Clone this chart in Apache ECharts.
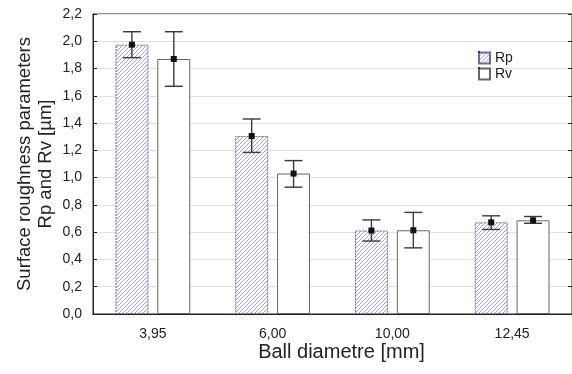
<!DOCTYPE html>
<html>
<head>
<meta charset="utf-8">
<script src="https://cdn.jsdelivr.net/npm/echarts@6/dist/echarts.min.js"></script>
<style>html,body{margin:0;padding:0;background:#fff}#c{width:572px;height:374px}</style>
</head>
<body>
<div id="c"></div>
<script>
const categories = ['3,95', '6,00', '10,00', '12,45'];
const rpMean = [1.975, 1.305, 0.612, 0.672];
const rpLow  = [1.88, 1.185, 0.535, 0.62];
const rpHigh = [2.07, 1.43, 0.69, 0.72];
const rvMean = [1.87, 1.03, 0.614, 0.687];
const rvLow  = [1.67, 0.93, 0.485, 0.665];
const rvHigh = [2.07, 1.125, 0.745, 0.715];

const pc = document.createElement('canvas');
pc.width = 4; pc.height = 4;
const g = pc.getContext('2d');
g.fillStyle = '#ffffff'; g.fillRect(0,0,4,4);
g.strokeStyle = '#a4a4c8'; g.lineWidth = 1;
g.beginPath(); g.moveTo(-1,5); g.lineTo(5,-1); g.stroke();
g.beginPath(); g.moveTo(-1,1); g.lineTo(1,-1); g.stroke();
g.beginPath(); g.moveTo(3,5); g.lineTo(5,3); g.stroke();
const hatch = {image: pc, repeat: 'repeat'};

function errItem(dx) {
  return function (params, api) {
    const i = api.value(0);
    const bw = api.size([1, 0])[0];
    const x = api.coord([i, 0])[0] + dx * bw;
    const ym = api.coord([i, api.value(1)])[1];
    const yl = api.coord([i, api.value(2)])[1];
    const yh = api.coord([i, api.value(3)])[1];
    const c = 9;
    const st = {stroke: '#3a3a3a', lineWidth: 1.4};
    return {type: 'group', children: [
      {type: 'line', shape: {x1: x, y1: yl, x2: x, y2: yh}, style: st},
      {type: 'line', shape: {x1: x - c, y1: yl, x2: x + c, y2: yl}, style: st},
      {type: 'line', shape: {x1: x - c, y1: yh, x2: x + c, y2: yh}, style: st},
      {type: 'rect', shape: {x: x - 3, y: ym - 3, width: 6, height: 6}, style: {fill: '#111'}}
    ]};
  };
}
const errRp = categories.map((c, i) => [i, rpMean[i], rpLow[i], rpHigh[i]]);
const errRv = categories.map((c, i) => [i, rvMean[i], rvLow[i], rvHigh[i]]);

const fmt = v => v.toFixed(1).replace('.', ',');
const FF = 'Liberation Sans, Arial, sans-serif';
const chart = echarts.init(document.getElementById('c'), null, {renderer: 'canvas'});
chart.setOption({
  animation: false,
  textStyle: {fontFamily: FF},
  grid: {left: 93, top: 14, right: 0, bottom: 60, show: true, borderColor: '#222', borderWidth: 1},
  legend: {
    data: ['Rp', 'Rv'], orient: 'vertical', left: 473, top: 46, icon: 'rect',
    itemWidth: 11, itemHeight: 11, itemGap: 2,
    textStyle: {fontSize: 14, color: '#222', fontFamily: FF}
  },
  graphic: [
    {type: 'rect', shape: {x: 478, y: 51, width: 2, height: 2}, style: {fill: '#333'}, z: 100},
    {type: 'rect', shape: {x: 478, y: 67, width: 2, height: 2}, style: {fill: '#333'}, z: 100}
  ],
  xAxis: [{
    type: 'category', data: categories,
    axisLine: {lineStyle: {color: '#222'}},
    axisTick: {inside: true, alignWithLabel: true, length: 4, lineStyle: {color: '#222'}},
    axisLabel: {fontSize: 14, color: '#222', margin: 13},
    name: 'Ball diametre [mm]', nameLocation: 'middle', nameGap: 28, nameMoveOverlap: false,
    nameTextStyle: {fontSize: 20, color: '#222', padding: [0, 0, 0, 18]}
  }, {
    type: 'category', data: categories, position: 'top',
    axisLine: {lineStyle: {color: '#222'}},
    axisTick: {inside: true, alignWithLabel: true, length: 4, lineStyle: {color: '#222'}},
    axisLabel: {show: false}
  }],
  yAxis: [{
    type: 'value', min: 0, max: 2.2, interval: 0.2,
    axisLine: {show: true, lineStyle: {color: '#222'}},
    axisTick: {show: true, inside: true, length: 4, lineStyle: {color: '#222'}},
    axisLabel: {fontSize: 14, color: '#222', margin: 11, formatter: fmt},
    splitLine: {lineStyle: {color: '#e0e0e0', width: 1}},
    name: 'Surface roughness parameters\nRp and Rv [µm]', nameLocation: 'middle', nameGap: 37, nameMoveOverlap: false,
    nameTextStyle: {fontSize: 18.5, color: '#222', lineHeight: 21}
  }, {
    type: 'value', min: 0, max: 2.2, interval: 0.2, position: 'right',
    axisLine: {show: true, lineStyle: {color: '#222'}},
    axisTick: {show: true, inside: true, length: 4, lineStyle: {color: '#222'}},
    axisLabel: {show: false}, splitLine: {show: false}
  }],
  series: [
    {name: 'Rp', type: 'bar', data: rpMean, barWidth: '27.5%', barGap: '27%',
     itemStyle: {color: hatch, borderColor: '#6a6aaa', borderWidth: 1, borderType: [2, 1]}},
    {name: 'Rv', type: 'bar', data: rvMean, barWidth: '27.5%', barGap: '27%',
     itemStyle: {color: '#ffffff', borderColor: '#666', borderWidth: 1}},
    {name: 'eRp', type: 'custom', renderItem: errItem(-0.175), data: errRp, z: 5},
    {name: 'eRv', type: 'custom', renderItem: errItem(0.175), data: errRv, z: 5}
  ]
});
</script>
</body>
</html>
